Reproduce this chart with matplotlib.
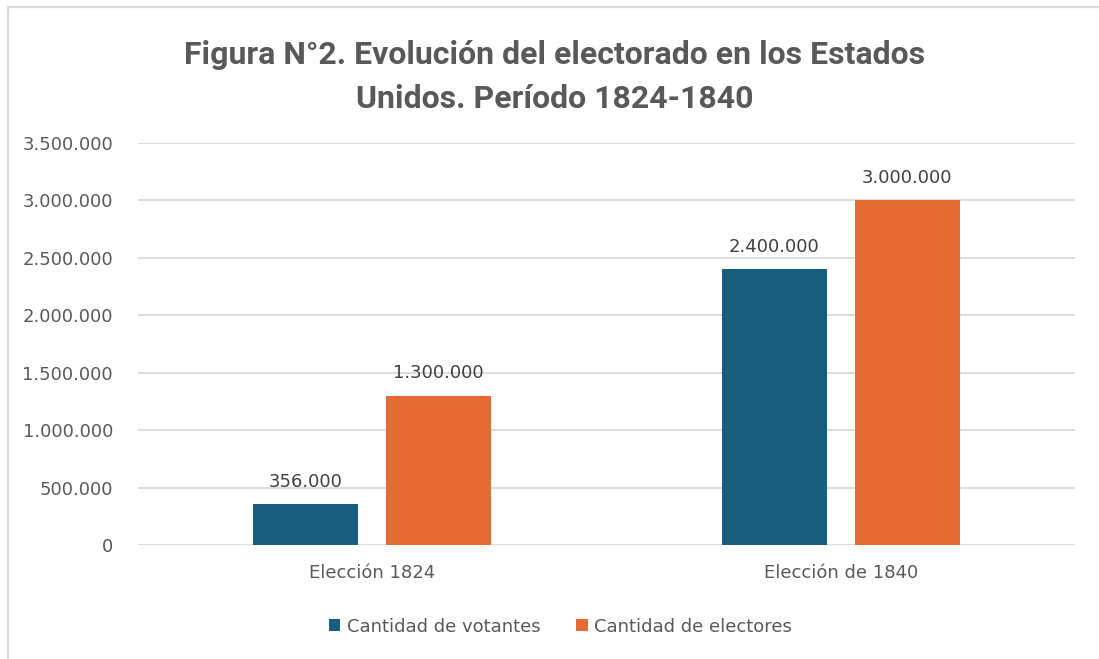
import matplotlib
matplotlib.use("Agg")
import matplotlib.pyplot as plt
from matplotlib.ticker import FuncFormatter
from matplotlib.patches import Rectangle
import numpy as np

categories = ["Elección 1824", "Elección de 1840"]
series_names = ["Cantidad de votantes", "Cantidad de electores"]
votantes = [356000, 2400000]
electores = [1300000, 3000000]
colors = ["#175e80", "#e46c34"]

def fmt(v):
    return f"{int(v):,}".replace(",", ".")

fig = plt.figure(figsize=(10.99, 6.59), dpi=100)
fig.patches.append(Rectangle((8 / 1099, -0.05), 1.2, 1.05 - 7 / 659, transform=fig.transFigure,
                             fill=False, edgecolor="#d9d9d9", linewidth=1.6))
ax = fig.add_axes([0.1256, 0.173, 0.8524, 0.610])

x = np.arange(len(categories))
w = 0.224
off = 0.142
text_c = "#595959"
for vals, sign, c, name in [(votantes, -1, colors[0], series_names[0]),
                            (electores, 1, colors[1], series_names[1])]:
    bars = ax.bar(x + sign * off, vals, width=w, color=c, label=name, zorder=3)
    for b, v in zip(bars, vals):
        ax.text(b.get_x() + b.get_width() / 2, v + 115000, fmt(v), ha="center", va="bottom",
                fontsize=13, color="#404040")

ax.set_xlim(-0.5, 1.5)
ax.set_ylim(0, 3500000)
ax.set_yticks(np.arange(0, 3500001, 500000))
ax.yaxis.set_major_formatter(FuncFormatter(lambda v, p: fmt(v)))
ax.set_xticks(x)
ax.set_xticklabels(categories)
ax.tick_params(axis="both", length=0, labelsize=13, colors=text_c)
ax.tick_params(axis="x", pad=14)
ax.tick_params(axis="y", pad=18)
ax.grid(axis="y", color="#d9d9d9", linewidth=1.3, zorder=0)
for s in ax.spines.values():
    s.set_visible(False)

fig.text(0.505, 1 - 40 / 659,
         "Figura N°2. Evolución del electorado en los Estados\nUnidos. Período 1824-1840",
         ha="center", va="top", fontsize=23, fontweight="bold", color=text_c,
         family=["Roboto", "DejaVu Sans"], linespacing=1.6)

leg = fig.legend(loc="center", bbox_to_anchor=(0.51, 0.049), ncol=2, frameon=False,
                 fontsize=13, handlelength=0.65, handleheight=0.65, columnspacing=2.0,
                 handletextpad=0.35)
for t in leg.get_texts():
    t.set_color(text_c)

fig.savefig("out.png", dpi=100)
